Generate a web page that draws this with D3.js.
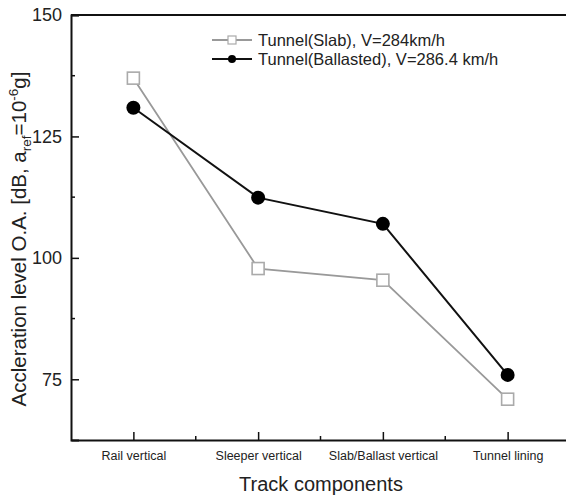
<!DOCTYPE html>
<html>
<head>
<meta charset="utf-8">
<script src="https://cdn.jsdelivr.net/npm/d3@7"></script>
<style>
  body { margin: 0; background: #fff; }
  text { font-family: "Liberation Sans", Arial, sans-serif; fill: #222; }
</style>
</head>
<body>
<svg width="566" height="500"></svg>
<script>
var categories = ["Rail vertical", "Sleeper vertical", "Slab/Ballast vertical", "Tunnel lining"];
var slabValues = [137.0, 97.8, 95.4, 70.9];
var ballastedValues = [130.9, 112.4, 107.0, 75.9];
var yTicks = [75, 100, 125, 150];
var yMinorTicks = [87.5, 112.5, 137.5];
var seriesNames = ["Tunnel(Slab), V=284km/h", "Tunnel(Ballasted), V=286.4 km/h"];

var svg = d3.select("svg"),
    margin = { top: 15, left: 71, bottom: 60 },
    plotRight = 570,
    height = 500 - margin.top - margin.bottom;

// point scale with half-step padding on each side
var x = d3.scalePoint()
  .domain(categories)
  .range([margin.left, plotRight])
  .padding(0.5);

var y = d3.scaleLinear()
  .domain([62.5, 150])
  .range([margin.top + height, margin.top]);

var g = svg.append("g");

// frame
g.append("line").attr("x1", margin.left).attr("x2", plotRight)
  .attr("y1", y(150)).attr("y2", y(150)).attr("stroke", "#111").attr("stroke-width", 2);

// y axis, ticks pointing inside
var yAxis = g.append("g")
  .attr("transform", "translate(" + margin.left + ",0)")
  .call(d3.axisRight(y).tickValues(yTicks).tickSize(8));
yAxis.select(".domain").attr("stroke-width", 2).attr("stroke", "#111");
yAxis.selectAll(".tick line").attr("stroke-width", 1.5).attr("stroke", "#111");
yAxis.selectAll(".tick text")
  .attr("text-anchor", "end").attr("x", -9)
  .style("font-size", "18px").style("font-family", "Liberation Sans, Arial, sans-serif");
yAxis.selectAll(".minor").data(yMinorTicks).enter().append("line")
  .attr("class", "minor")
  .attr("x1", 0).attr("x2", 4)
  .attr("y1", function(d) { return y(d); }).attr("y2", function(d) { return y(d); })
  .attr("stroke", "#111").attr("stroke-width", 1.5);

// x axis, ticks pointing inside
var xAxis = g.append("g")
  .attr("transform", "translate(0," + (margin.top + height) + ")")
  .call(d3.axisTop(x).tickSize(8).tickSizeOuter(0));
xAxis.select(".domain").attr("stroke-width", 2).attr("stroke", "#111");
xAxis.selectAll(".tick line").attr("stroke-width", 1.5).attr("stroke", "#111");
xAxis.selectAll(".tick text")
  .attr("y", 20).attr("dy", 0)
  .style("font-size", "12.5px").style("font-family", "Liberation Sans, Arial, sans-serif");
var step = x.step();
xAxis.selectAll(".minor").data(categories.slice(0, 3)).enter().append("line")
  .attr("class", "minor")
  .attr("x1", function(d) { return x(d) + step / 2; })
  .attr("x2", function(d) { return x(d) + step / 2; })
  .attr("y1", 0).attr("y2", -4)
  .attr("stroke", "#111").attr("stroke-width", 1.5);

var line = d3.line()
  .x(function(d, i) { return x(categories[i]); })
  .y(function(d) { return y(d); });

// slab series
g.append("path").datum(slabValues)
  .attr("d", line).attr("fill", "none").attr("stroke", "#999").attr("stroke-width", 1.8);
g.selectAll(".sq").data(slabValues).enter().append("rect")
  .attr("class", "sq")
  .attr("x", function(d, i) { return x(categories[i]) - 6; })
  .attr("y", function(d) { return y(d) - 6; })
  .attr("width", 12).attr("height", 12)
  .attr("fill", "#fff").attr("stroke", "#aaa").attr("stroke-width", 1.6);

// ballasted series
g.append("path").datum(ballastedValues)
  .attr("d", line).attr("fill", "none").attr("stroke", "#111").attr("stroke-width", 2);
g.selectAll(".dot").data(ballastedValues).enter().append("circle")
  .attr("class", "dot")
  .attr("cx", function(d, i) { return x(categories[i]); })
  .attr("cy", function(d) { return y(d); })
  .attr("r", 7).attr("fill", "#000");

// legend
var legend = g.append("g").attr("transform", "translate(212,40)");
legend.append("line").attr("x1", 0).attr("x2", 40).attr("y1", 0).attr("y2", 0)
  .attr("stroke", "#999").attr("stroke-width", 1.8);
legend.append("rect").attr("x", 16).attr("y", -4).attr("width", 8).attr("height", 8)
  .attr("fill", "#fff").attr("stroke", "#aaa").attr("stroke-width", 1.2);
legend.append("text").attr("x", 46).attr("y", 0).attr("dy", "0.35em")
  .style("font-size", "16.5px").text(seriesNames[0]);
legend.append("line").attr("x1", 0).attr("x2", 40).attr("y1", 19).attr("y2", 19)
  .attr("stroke", "#111").attr("stroke-width", 2);
legend.append("circle").attr("cx", 20).attr("cy", 19).attr("r", 4).attr("fill", "#000");
legend.append("text").attr("x", 46).attr("y", 19).attr("dy", "0.35em")
  .style("font-size", "16.5px").text(seriesNames[1]);

// axis titles
svg.append("text")
  .attr("x", 321).attr("y", 491)
  .attr("text-anchor", "middle").style("font-size", "20px")
  .text("Track components");

var yt = svg.append("text")
  .attr("transform", "translate(26,239) rotate(-90)")
  .attr("text-anchor", "middle").style("font-size", "20.5px");
yt.append("tspan").text("Accleration level O.A. [dB, a");
yt.append("tspan").attr("dy", 5).style("font-size", "13.5px").text("ref");
yt.append("tspan").attr("dy", -5).text("=10");
yt.append("tspan").attr("dy", -8).style("font-size", "13.5px").text("-6");
yt.append("tspan").attr("dy", 8).text("g]");
</script>
</body>
</html>
